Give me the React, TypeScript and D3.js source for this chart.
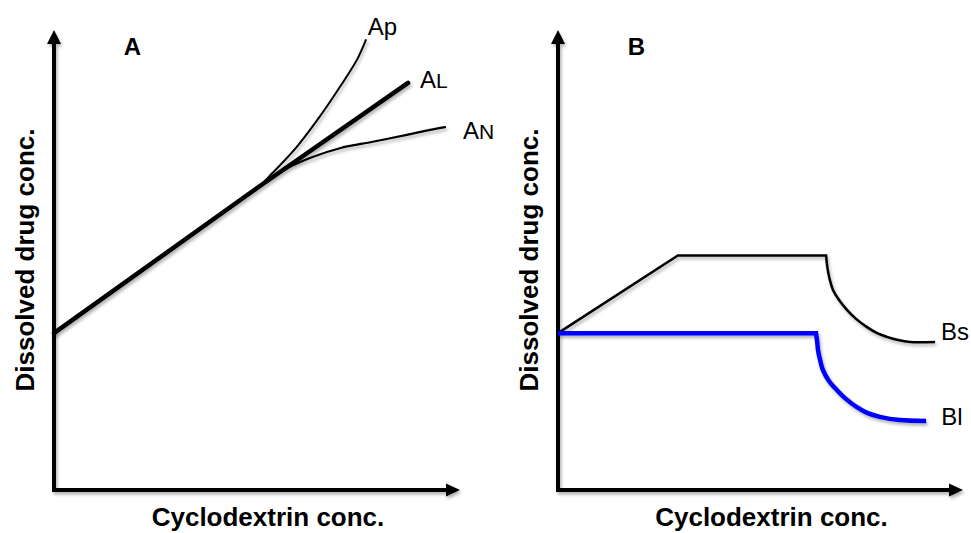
import React from 'react';
import * as d3 from 'd3';

type Pt = [number, number];

// panel A - A-type phase solubility profiles (x: cyclodextrin, y: dissolved drug)
const apPoints: Pt[] = [[0, 3.41], [2.5, 4.99], [5.01, 6.57], [5.38, 6.89], [5.98, 7.46], [6.54, 8.11], [7.04, 8.76], [7.46, 9.35], [7.68, 9.78]];
const alPoints: Pt[] = [[0, 3.41], [5.01, 6.57], [8.72, 8.85]];
const anPoints: Pt[] = [[0, 3.41], [2.5, 4.99], [5.01, 6.57], [5.80, 7.02], [6.37, 7.24], [7.04, 7.43], [7.85, 7.57], [8.69, 7.72], [9.26, 7.83], [9.63, 7.89]];

// panel B - B-type profiles, straight part then the precipitation arc
const bsStraight: Pt[] = [[0, 3.41], [2.96, 5.10], [6.62, 5.10]];
const bsArc: Pt[] = [
  [6.62, 5.10], [6.64, 4.91], [6.67, 4.74], [6.72, 4.54], [6.79, 4.35], [6.94, 4.13], [7.14, 3.91],
  [7.36, 3.72], [7.63, 3.54], [7.88, 3.41], [8.12, 3.33], [8.40, 3.26], [8.69, 3.22], [9.31, 3.22],
];
const blStraight: Pt[] = [[0, 3.41], [6.37, 3.41]];
const blArc: Pt[] = [
  [6.37, 3.41], [6.40, 3.22], [6.42, 3.04], [6.47, 2.83], [6.54, 2.61], [6.69, 2.37], [6.89, 2.17],
  [7.11, 1.98], [7.38, 1.80], [7.65, 1.67], [7.95, 1.59], [8.44, 1.52], [9.09, 1.50],
];

const panelNames = ['A', 'B'];
const xTitle = 'Cyclodextrin conc.';
const yTitle = 'Dissolved drug conc.';

const FONT = '"Liberation Sans", Arial, Helvetica, sans-serif';

export default function App() {
  const W = 971;
  const H = 533;
  const yScale = d3.scaleLinear().domain([0, 10]).range([490, 30]);
  const xA = d3.scaleLinear().domain([0, 10]).range([54, 460]);
  const xB = d3.scaleLinear().domain([0, 10]).range([558, 963]);
  const smooth = d3.curveCatmullRom.alpha(0.5);

  const pathFor = (x: d3.ScaleLinear<number, number>, curve: d3.CurveFactory) =>
    d3.line<Pt>().x(d => x(d[0])).y(d => yScale(d[1])).curve(curve);

  const joined = (x: d3.ScaleLinear<number, number>, straight: Pt[], arc: Pt[]) => {
    const a = pathFor(x, d3.curveLinear)(straight) || '';
    const b = (pathFor(x, smooth)(arc) || '').replace(/^M/, 'L');
    return a + b;
  };

  const axes = (x: d3.ScaleLinear<number, number>, key: string) => {
    const [x0, x1] = x.range();
    const [yb, yt] = yScale.range();
    return (
      <g key={key} filter="url(#shadow)">
        <line x1={x0} y1={yb + 2} x2={x0} y2={yt + 12} stroke="#000" strokeWidth={4} />
        <line x1={x0 - 2} y1={yb} x2={x1 - 12} y2={yb} stroke="#000" strokeWidth={4} />
        <path d={`M${x0},${yt} L${x0 - 7},${yt + 14} L${x0 + 7},${yt + 14} Z`} fill="#000" />
        <path d={`M${x1},${yb} L${x1 - 14},${yb - 6.5} L${x1 - 14},${yb + 6.5} Z`} fill="#000" />
      </g>
    );
  };

  const endLabel = (x: d3.ScaleLinear<number, number>, pts: Pt[], main: string, sub: string, dx: number, dy: number, subSize: number) => {
    const p = pts[pts.length - 1];
    return (
      <text x={x(p[0]) + dx} y={yScale(p[1]) + dy} fontFamily={FONT} fontSize={24} fill="#000">
        {main}
        <tspan fontSize={subSize}>{sub}</tspan>
      </text>
    );
  };

  return (
    <svg width={W} height={H} style={{ position: 'absolute', left: 0, top: 0, background: '#fff' }}>
      <defs>
        <filter id="shadow" x="-10%" y="-10%" width="120%" height="130%">
          <feDropShadow dx={1.5} dy={2.5} stdDeviation={1.5} floodColor="#000" floodOpacity={0.3} />
        </filter>
      </defs>
      <rect width={W} height={H} fill="#fff" />

      {axes(xA, 'axA')}
      {axes(xB, 'axB')}

      {/* panel letters */}
      {[xA, xB].map((x, i) => (
        <text key={panelNames[i]} x={x(1.72)} y={55} fontFamily={FONT} fontWeight="bold" fontSize={24}>
          {panelNames[i]}
        </text>
      ))}

      {/* axis titles */}
      {[xA, xB].map((x, i) => (
        <g key={'t' + i} fontFamily={FONT} fontWeight="bold" fontSize={26} fill="#000">
          <text x={(x.range()[0] + x.range()[1]) / 2 + 11} y={526} textAnchor="middle">{xTitle}</text>
          <text transform={`translate(${x.range()[0] - 20},260) rotate(-90)`} textAnchor="middle">{yTitle}</text>
        </g>
      ))}

      {/* panel A curves */}
      <g fill="none" stroke="#000" strokeLinecap="round" filter="url(#shadow)">
        <path d={pathFor(xA, smooth)(apPoints) || ''} strokeWidth={2} />
        <path d={pathFor(xA, d3.curveLinear)(alPoints) || ''} strokeWidth={4.5} />
        <path d={pathFor(xA, smooth)(anPoints) || ''} strokeWidth={2.2} />
      </g>
      {endLabel(xA, apPoints, 'A', 'p', 2, -5, 24)}
      {endLabel(xA, alPoints, 'A', 'L', 12, 5, 21)}
      {endLabel(xA, anPoints, 'A', 'N', 18, 12, 21)}

      {/* panel B curves */}
      <g fill="none" strokeLinejoin="miter" filter="url(#shadow)">
        <path d={joined(xB, bsStraight, bsArc)} stroke="#000" strokeWidth={2.5} />
        <path d={joined(xB, blStraight, blArc)} stroke="#0000ff" strokeWidth={4.5} />
      </g>
      {endLabel(xB, bsArc, 'B', 's', 6, -2, 24)}
      {endLabel(xB, blArc, 'B', 'l', 15, 4, 24)}
    </svg>
  );
}
